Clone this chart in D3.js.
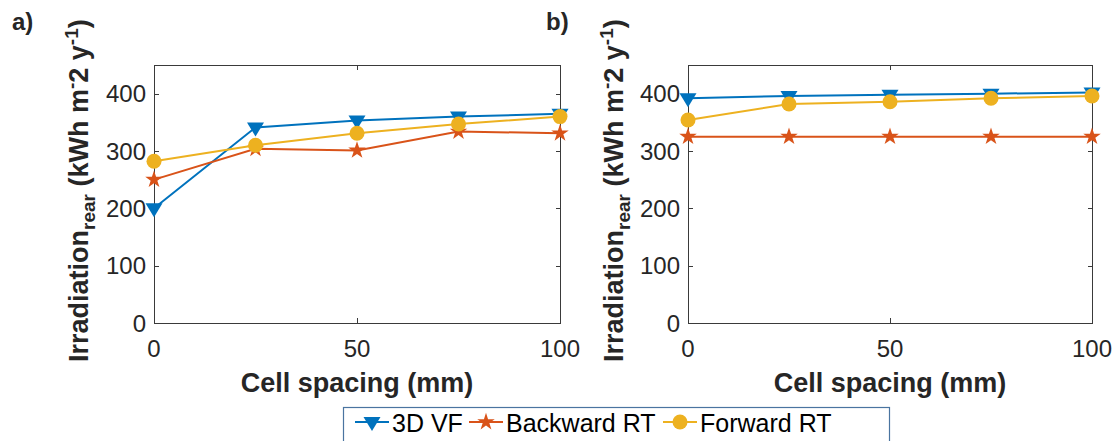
<!DOCTYPE html>
<html>
<head>
<meta charset="utf-8">
<script src="https://cdn.jsdelivr.net/npm/d3@7"></script>
<style>
	body { margin: 0; background: #fff; }
	svg { display: block; font-family: "Liberation Sans", Arial, sans-serif; }
	.tick_lbl { fill: #262626; font-size: 24px; }
	.ax_lbl { fill: #262626; font-size: 27px; font-weight: bold; }
</style>
</head>
<body>
<svg id="chart" width="1120" height="441"></svg>
<script>
// values
const spacing = [0, 25, 50, 75, 100];
const seriesNames = ['3D VF', 'Backward RT', 'Forward RT'];
const vfA = [200, 341, 353, 360, 365];
const bwdA = [250, 304, 301, 334, 331];
const fwdA = [282, 310, 331, 347, 360];
const vfB = [392, 396, 398, 400, 402];
const bwdB = [325, 325, 325, 325, 325];
const fwdB = [354, 382, 386, 392, 396];
const yTicks = [0, 100, 200, 300, 400];
const xTicks = [0, 50, 100];
const panelTags = ['a)', 'b)'];

const colors = ['#0072BD', '#D95319', '#EDB120'];
const svg = d3.select('#chart');

const panels = [
	{ tag: panelTags[0], x1: 154, x2: 560, series: [vfA, bwdA, fwdA], tagX: 12, lblX: 88 },
	{ tag: panelTags[1], x1: 688, x2: 1092, series: [vfB, bwdB, fwdB], tagX: 546, lblX: 623 }
];
const axTop = 65, axBottom = 323;

// marker shapes, drawn centred on the point
function marker(sel, i, color) {
	if (i === 0) {
		sel.append('path').attr('d', 'M-8.5,-5 L8.5,-5 L0,9 Z').attr('fill', color);
	} else if (i === 1) {
		sel.append('path').attr('d', d3.symbol(d3.symbolStar, 95)()).attr('fill', color);
	} else {
		sel.append('circle').attr('r', 7.5).attr('fill', color);
	}
}

panels.forEach(function(p) {
	const x = d3.scaleLinear().domain([0, 100]).range([p.x1, p.x2]);
	const y = d3.scaleLinear().domain([0, 450]).range([axBottom, axTop]);
	const g = svg.append('g').attr('class', 'g_panel');

	// box
	g.append('rect')
		.attr('x', p.x1 + 0.5).attr('y', axTop + 0.5)
		.attr('width', p.x2 - p.x1).attr('height', axBottom - axTop)
		.attr('fill', 'none').attr('stroke', '#3a3a3a').attr('stroke-width', 1);

	// ticks (inside, mirrored)
	yTicks.forEach(function(t) {
		const yy = Math.round(y(t)) + 0.5;
		g.append('line').attr('x1', p.x1).attr('x2', p.x1 + 5).attr('y1', yy).attr('y2', yy).attr('stroke', '#3a3a3a');
		g.append('line').attr('x1', p.x2 - 4).attr('x2', p.x2 + 1).attr('y1', yy).attr('y2', yy).attr('stroke', '#3a3a3a');
		g.append('text').attr('class', 'tick_lbl')
			.attr('x', p.x1 - 8).attr('y', y(t) + 8.5)
			.attr('text-anchor', 'end').text(t);
	});
	xTicks.forEach(function(t) {
		const xx = Math.round(x(t)) + 0.5;
		g.append('line').attr('x1', xx).attr('x2', xx).attr('y1', axBottom).attr('y2', axBottom - 5).attr('stroke', '#3a3a3a');
		g.append('line').attr('x1', xx).attr('x2', xx).attr('y1', axTop).attr('y2', axTop + 5).attr('stroke', '#3a3a3a');
		g.append('text').attr('class', 'tick_lbl')
			.attr('x', x(t)).attr('y', 357)
			.attr('text-anchor', 'middle').text(t);
	});

	// series
	const line = d3.line().x((d, i) => x(spacing[i])).y(d => y(d));
	p.series.forEach(function(vals, i) {
		g.append('path').datum(vals)
			.attr('d', line)
			.attr('fill', 'none').attr('stroke', colors[i]).attr('stroke-width', 2);
		vals.forEach(function(v, j) {
			const m = g.append('g').attr('transform', 'translate(' + x(spacing[j]) + ',' + y(v) + ')');
			marker(m, i, colors[i]);
		});
	});

	// labels
	g.append('text').attr('class', 'ax_lbl')
		.attr('x', (p.x1 + p.x2) / 2).attr('y', 392)
		.attr('text-anchor', 'middle').text('Cell spacing (mm)');

	const yl = g.append('text').attr('class', 'ax_lbl')
		.attr('transform', 'translate(' + p.lblX + ',362) rotate(-90)');
	yl.append('tspan').text('Irradiation');
	yl.append('tspan').attr('font-size', 19).attr('dy', 7).text('rear');
	yl.append('tspan').attr('dy', -7).text(' (kWh m');
	yl.append('tspan').attr('font-size', 19).attr('dy', -10).text('-');
	yl.append('tspan').attr('dy', 10).text('2 y');
	yl.append('tspan').attr('font-size', 19).attr('dy', -10).text('-1');
	yl.append('tspan').attr('dy', 10).text(')');

	g.append('text').attr('x', p.tagX).attr('y', 30)
		.attr('fill', '#262626').attr('font-size', 24).attr('font-weight', 'bold')
		.text(p.tag);
});

// legend
const lg = svg.append('g').attr('class', 'g_legend');
lg.append('rect').attr('x', 343.5).attr('y', 407.5).attr('width', 546).attr('height', 44)
	.attr('fill', '#fff').attr('stroke', '#4a74a0').attr('stroke-width', 1.2);
const legX = [355, 469, 663];
seriesNames.forEach(function(name, i) {
	const ly = 422;
	lg.append('line').attr('x1', legX[i]).attr('x2', legX[i] + 34).attr('y1', ly).attr('y2', ly)
		.attr('stroke', colors[i]).attr('stroke-width', 2);
	const m = lg.append('g').attr('transform', 'translate(' + (legX[i] + 17) + ',' + ly + ')');
	marker(m, i, colors[i]);
	lg.append('text').attr('x', legX[i] + 37).attr('y', 432)
		.attr('font-size', 25).attr('fill', '#000').text(name);
});
</script>
</body>
</html>
